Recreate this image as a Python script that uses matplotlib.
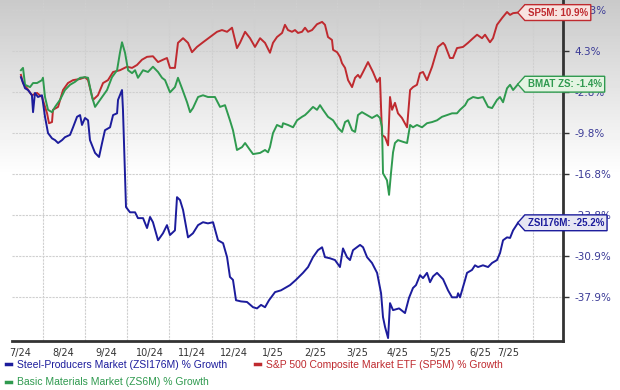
import numpy as np
import matplotlib.pyplot as plt
from matplotlib.path import Path
from matplotlib.lines import Line2D

# x = days since 2024-07-01, y = % growth
red_days = [14.5, 16, 18.9, 22.5, 26.2, 29.8, 33.5, 34.9, 37.1, 37.8,
            41.5, 45.1, 48.7, 52.4, 57.5, 61.1, 63.3, 66.9, 70.5, 74.2,
            77.8, 81.5, 86.5, 91.6, 95.3, 98.9, 102.5, 106.2, 110.5, 114.2,
            117.8, 120.7, 122.9, 126.5, 128.7, 132.4, 136, 138.9, 142.5, 146.9,
            152, 157.1, 160.7, 164.4, 168, 171.6, 173.8, 177.5, 181.1, 184.7,
            188.4, 192, 195.6, 197.8, 200.7, 204.4, 206.5, 208.7, 211.6, 213.8,
            216, 218.9, 221.1, 223.3, 226.2, 229.8, 233.5, 235.6, 237.8, 240.7,
            241.5, 244.4, 246.5, 248, 250.2, 252.4, 255.3, 257.5, 259.6, 261.1,
            263.3, 266.9, 270.5, 273.5, 275.6, 277.1, 279.3, 281.5, 282.9, 284.4,
            286.5, 288.7, 291.6, 295.3, 297.5, 299.6, 302.5, 304.7, 306.9, 309.8,
            313.5, 315.6, 317.8, 321.5, 322.9, 326.5, 328.7, 331.6, 336, 339.6,
            343.3, 346.2, 349.8, 352, 355.6, 357.8, 360.7, 364.5, 368, 370.2,
            372.4, 376]
red_vals = [0.2, -1.2, -2.1, -3.3, -2.9, -3.6, -6.4, -8.1, -7.9, -5.8,
            -5.3, -2.4, -1.2, -0.7, -0.5, -0.2, -0.7, -4.1, -3.3, -1.2,
            -0.7, 0.7, 1.0, 1.6, 1.4, 1.9, 2.8, 3.3, 3.4, 2.4,
            2.8, 3.1, 1.4, 1.4, 5.7, 6.5, 5.7, 4.1, 5.0, 5.8,
            6.7, 7.6, 7.9, 7.6, 8.3, 4.8, 5.7, 7.6, 6.5, 5.0,
            6.5, 5.7, 4.0, 5.7, 6.7, 7.4, 8.8, 7.9, 7.6, 7.9,
            7.4, 7.6, 8.3, 7.6, 7.9, 8.9, 9.3, 8.8, 6.7, 6.2,
            4.5, 4.1, 3.3, 2.2, 1.4, -0.7, -1.9, -0.3, 0.2, -0.3,
            0.7, 2.4, 0.7, -1.0, -0.3, -10.1, -10.5, -11.9, -3.6, -5.8,
            -4.6, -6.4, -7.2, -8.8, -2.4, -1.9, -1.5, 0.5, 0.7, -0.7,
            1.6, 3.3, 5.0, 5.7, 5.3, 3.1, 3.1, 4.8, 5.0, 5.7,
            6.5, 7.1, 6.5, 7.1, 5.8, 6.5, 8.8, 10.0, 11.0, 10.5,
            10.8, 10.9]

green_days = [14.5, 16, 17.5, 21.1, 23.3, 26.2, 29.8, 30.5, 32, 34.2,
              37.1, 39.3, 42.9, 46.5, 50.2, 53.8, 57.5, 61.1, 63.3, 66.2,
              68.4, 72, 77.1, 80.7, 84.4, 86.5, 88, 90.2, 92.4, 95.3,
              97.5, 99.6, 103.3, 106.9, 110.5, 114.2, 117.1, 119.3, 122.9, 126.5,
              128.7, 131.6, 135.3, 137.5, 139.6, 143.3, 146.9, 150.5, 155.6, 159.3,
              162.9, 166.5, 168.7, 171.6, 175.3, 177.5, 181.1, 183.3, 188.4, 192,
              194.2, 195.6, 197.8, 200.7, 204.4, 205.1, 208.7, 212.4, 215.3, 218.9,
              221.1, 223.3, 226.9, 229.8, 232, 234.2, 237.8, 241.5, 245.1, 248,
              250.2, 252.4, 255.3, 257.5, 259.6, 262.5, 266.2, 269.8, 273.5, 275.6,
              277.1, 277.8, 280.7, 282.2, 283.6, 285.1, 286.5, 288.7, 292.4, 295.3,
              297.5, 299.6, 302.5, 306.2, 309.8, 313.5, 317.1, 320.7, 324.4, 328,
              331.6, 333.8, 337.5, 339.6, 343.3, 346.9, 350.5, 354.2, 357.1, 360.7,
              362.9, 365.1, 368, 370.2, 372.4, 376]
green_vals = [1.0, 1.4, -1.5, -1.9, -1.2, -1.2, -0.7, -0.3, -3.6, -5.8,
              -6.2, -5.3, -4.1, -2.4, -1.5, -1.0, -0.3, -0.2, -0.3, -3.6,
              -5.3, -4.1, -2.4, -0.2, 1.0, 4.0, 5.8, 4.0, 1.0, 0.5,
              1.0, -0.3, 1.0, 0.7, 1.6, 0.7, -0.3, -0.7, -2.8, -1.9,
              -0.3, -2.1, -4.5, -6.2, -5.5, -3.6, -3.3, -3.6, -3.6, -5.3,
              -5.0, -7.6, -9.3, -12.7, -12.2, -11.5, -12.7, -13.4, -13.2, -12.7,
              -13.1, -12.2, -9.8, -8.4, -8.8, -8.1, -8.4, -8.8, -7.6, -7.0,
              -6.7, -6.2, -5.3, -5.8, -5.0, -5.8, -7.0, -7.6, -8.9, -9.6,
              -7.9, -7.6, -9.3, -9.6, -6.7, -6.2, -6.7, -7.2, -6.7, -7.2,
              -8.8, -16.7, -17.9, -20.4, -16.7, -13.1, -11.5, -11.0, -11.3, -11.5,
              -8.4, -8.8, -8.4, -8.8, -8.1, -7.9, -7.6, -7.0, -6.7, -6.4,
              -6.4, -5.8, -5.0, -4.1, -3.6, -3.8, -3.6, -5.3, -5.5, -4.1,
              -3.6, -4.5, -2.1, -1.5, -2.4, -1.4]

blue_days = [14.5, 17.5, 19.6, 22.5, 23.3, 24.7, 26.9, 29.8, 32, 34.2,
             37.1, 39.3, 41.5, 44.4, 46.5, 50.2, 52.4, 55.3, 57.5, 58.9,
             61.1, 63.3, 64.7, 68.4, 71.3, 73.5, 75.6, 79.3, 81.5, 84.4,
             85.1, 88, 88.7, 90.9, 93.8, 97.5, 99.6, 103.3, 106.2, 108.4,
             110.5, 114.2, 117.8, 120.7, 122.9, 126.5, 128, 130.2, 132.4, 136,
             139.6, 143.3, 146.9, 150.5, 154.2, 157.8, 161.5, 164.4, 166.5, 168.7,
             170.9, 174.5, 178.9, 183.3, 186.2, 189.1, 192, 194.9, 199.3, 203.6,
             206.5, 210.2, 214.5, 219.6, 223.3, 226.9, 230.5, 233.5, 235.6, 239.3,
             242.9, 246.5, 248.7, 251.6, 253.8, 256, 258.9, 261.1, 263.3, 266.2,
             269.8, 273.5, 276.4, 277.8, 279.3, 281.5, 282.9, 285.1, 289.5, 293.8,
             296.7, 299.6, 301.8, 304.7, 306.9, 309.8, 312, 314.2, 317.1, 321.5,
             325.1, 328, 331.6, 332.4, 333.8, 335.3, 337.5, 338.9, 342.5, 344.7,
             346.9, 350.5, 354.2, 357.1, 360.7, 362.9, 365.1, 368, 370.2, 372.4,
             376]
blue_vals = [-0.2, -2.1, -2.4, -3.3, -6.2, -2.9, -3.6, -3.3, -7.0, -9.8,
             -10.7, -11.0, -11.5, -11.0, -10.5, -10.1, -8.8, -7.0, -6.7, -8.4,
             -7.2, -7.6, -11.0, -13.2, -13.9, -11.5, -9.3, -8.8, -6.7, -6.4,
             -4.1, -2.4, -5.8, -22.5, -23.4, -23.4, -24.4, -24.4, -26.1, -24.2,
             -25.1, -28.2, -27.0, -25.6, -27.3, -26.5, -20.8, -21.3, -23.0, -27.7,
             -27.0, -25.6, -25.1, -25.3, -25.1, -28.2, -28.7, -31.1, -34.5, -35.0,
             -38.5, -38.7, -38.8, -39.7, -39.9, -39.3, -39.7, -38.5, -37.1, -36.8,
             -36.4, -35.9, -35.0, -33.8, -32.8, -31.1, -29.9, -29.4, -31.1, -31.3,
             -31.6, -32.8, -29.6, -31.1, -31.6, -29.9, -29.4, -29.0, -29.4, -31.1,
             -32.1, -33.8, -37.3, -41.4, -43.1, -45.0, -39.0, -40.2, -39.9, -40.7,
             -38.1, -36.4, -35.9, -34.2, -34.7, -33.8, -35.4, -34.4, -33.8, -34.9,
             -36.8, -38.0, -38.0, -37.3, -38.0, -36.8, -35.0, -33.8, -33.3, -32.5,
             -32.8, -32.5, -32.8, -32.1, -31.6, -30.4, -28.2, -27.7, -27.8, -26.5,
             -25.2]

month_labels = ['7/24', '8/24', '9/24', '10/24', '11/24', '12/24', '1/25',
                '2/25', '3/25', '4/25', '5/25', '6/25', '7/25']
month_label_days = [13.8, 45.1, 76.4, 108.4, 138.9, 169.5, 197.8, 228.4,
                    258.9, 288, 319.3, 348.4, 368.7]
month_grid_days = [30.5, 61.1, 91.6, 122.2, 153.5, 184, 214.5, 244.4,
                   274.9, 304.7, 336, 361.5, 387]
y_ticks = [11.3, 4.3, -2.8, -9.8, -16.8, -23.8, -30.9, -37.9]

RED = '#bf2a2f'
GREEN = '#2f9a4f'
BLUE = '#1c1c9c'

fig = plt.figure(figsize=(6.2, 3.9), dpi=100)

# grey to white gradient behind everything
bg = fig.add_axes([0, 0, 1, 1], zorder=0)
g = np.clip(0.79 + 0.21 * np.arange(390) / 175.0, 0, 1)
bg.imshow(g[:, None], cmap='gray', vmin=0, vmax=1, aspect='auto',
          extent=[0, 1, 0, 1])
bg.axis('off')

ax = fig.add_axes([12 / 620, 49 / 390, 551 / 620, 341 / 390], zorder=1)
ax.patch.set_alpha(0)

ax.plot(red_days, red_vals, color=RED, lw=1.4, zorder=3)
ax.plot(green_days, green_vals, color=GREEN, lw=1.4, zorder=4)
ax.plot(blue_days, blue_vals, color=BLUE, lw=1.4, zorder=5)

ax.set_xlim(8.0, 408.7)
ax.set_ylim(-45.5, 13.06)

for s in ['top', 'left']:
    ax.spines[s].set_visible(False)
for s in ['right', 'bottom']:
    ax.spines[s].set_linewidth(2)
    ax.spines[s].set_color('#333333')

ax.yaxis.tick_right()
ax.set_yticks(y_ticks)
ax.set_yticklabels([f'{v}%' for v in y_ticks])
ax.tick_params(axis='y', length=4, width=1, color='#333333', pad=4,
               labelsize=7.5, labelcolor='#3a3a96')
ax.yaxis.grid(True, color='#cfcfcf', lw=0.8, ls=(0, (2, 1)))

ax.set_xticks(month_label_days)
ax.set_xticklabels(month_labels)
ax.tick_params(axis='x', length=0, pad=5, labelsize=7, labelcolor='#333333')
ax.set_xticks(month_grid_days, minor=True)
ax.tick_params(axis='x', which='minor', length=0)
ax.xaxis.grid(True, which='minor', color='#cfcfcf', lw=0.8, ls=(0, (2, 1)))
ax.set_axisbelow(True)


def tag_box(x0, y0, width, height, mutation_size):
    pad = 0.3 * mutation_size
    x0, y0 = x0 - pad, y0 - pad
    x1, y1 = x0 + width + 2 * pad, y0 + height + 2 * pad
    ym = (y0 + y1) / 2
    tip = (y1 - y0) * 0.45
    verts = [(x0 - tip, ym), (x0, y0), (x1, y0), (x1, y1), (x0, y1),
             (x0 - tip, ym)]
    return Path(verts, closed=True)


end_tags = [
    ('SP5M: 10.9%', red_days[-1], red_vals[-1], RED, '#f8e3e0'),
    ('BMAT ZS: -1.4%', green_days[-1], green_vals[-1], GREEN, '#e4f4e2'),
    ('ZSI176M: -25.2%', blue_days[-1], blue_vals[-1], BLUE, '#e7e7f3'),
]
for txt, xd, yd, col, fill in end_tags:
    ax.annotate(txt, xy=(xd, yd), xytext=(7, 0), textcoords='offset points',
                ha='left', va='center', fontsize=7, fontweight='bold',
                family='Liberation Sans', color=col, annotation_clip=False,
                zorder=10,
                bbox=dict(boxstyle=tag_box, fc=fill, ec=col, lw=1))

handles = [Line2D([], [], color=BLUE, lw=2.5),
           Line2D([], [], color=GREEN, lw=2.5),
           Line2D([], [], color=RED, lw=2.5)]
labels = ['Steel-Producers Market (ZSI176M) % Growth',
          'Basic Materials Market (ZS6M) % Growth',
          'S&P 500 Composite Market ETF (SP5M) % Growth']
leg = fig.legend(handles, labels, ncol=2, loc='upper left',
                 bbox_to_anchor=(6 / 620, 30 / 390), frameon=False,
                 handlelength=0.5, handletextpad=0.6, columnspacing=2.6,
                 labelspacing=0.7, borderpad=0, borderaxespad=0,
                 prop={'family': 'Liberation Sans', 'size': 7.5},
                 labelcolor='linecolor')

fig.savefig('out.png', dpi=100)
